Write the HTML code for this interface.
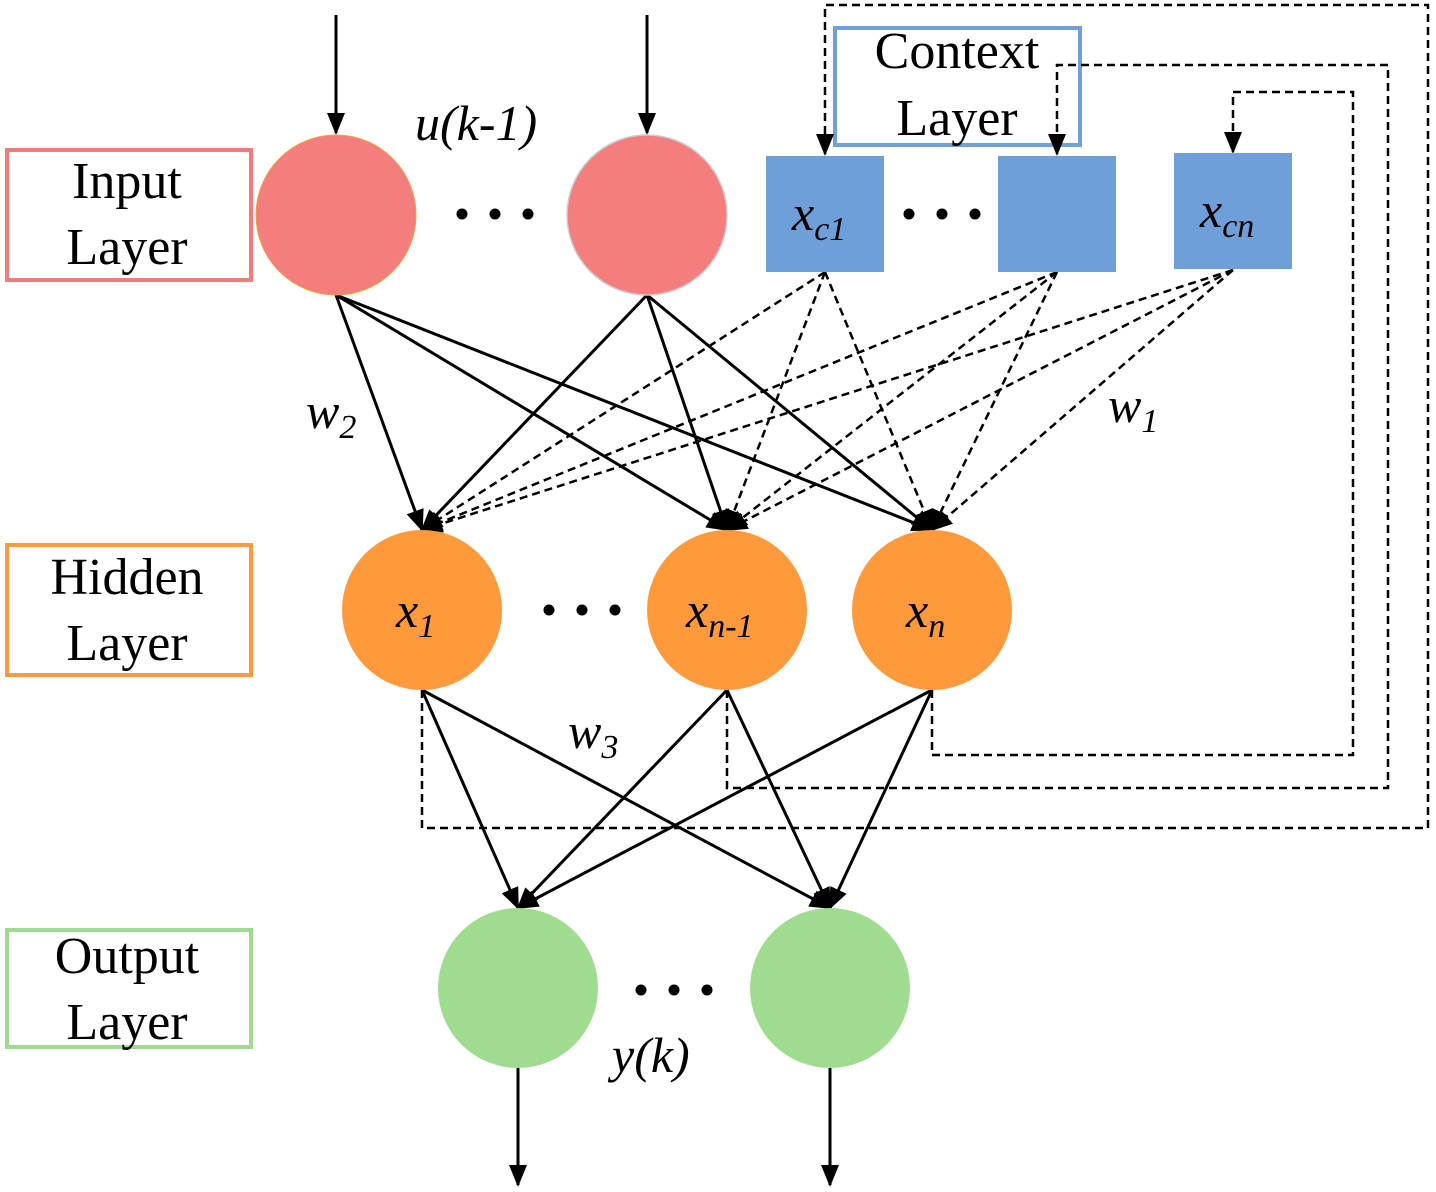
<!DOCTYPE html>
<html><head><style>body{margin:0;background:#fff}svg{display:block}</style></head><body>
<svg width="1436" height="1192" viewBox="0 0 1436 1192" xmlns="http://www.w3.org/2000/svg" font-family="Liberation Serif, serif">
<defs>
<marker id="b" markerWidth="22" markerHeight="22" refX="20" refY="11" orient="auto" markerUnits="userSpaceOnUse" viewBox="0 0 22 22"><path d="M0,2 L22,11 L0,20z" fill="#000"/></marker>
</defs>
<g fill="none" stroke-width="4">
<rect x="7" y="150" width="244" height="130" stroke="#F07C7C"/>
<rect x="7" y="545" width="244" height="130" stroke="#FF9A3C"/>
<rect x="7" y="930" width="244" height="117" stroke="#A0DC90"/>
<rect x="835" y="28" width="245" height="117" stroke="#6FA0DC"/>
</g>
<g font-size="52" text-anchor="middle" fill="#000">
<text x="127" y="198">Input</text><text x="127" y="264">Layer</text>
<text x="127" y="594">Hidden</text><text x="127" y="660">Layer</text>
<text x="127" y="973">Output</text><text x="127" y="1039">Layer</text>
<text x="957" y="68">Context</text><text x="957" y="135">Layer</text>
</g>
<g stroke="#000" stroke-width="3" fill="none">
<line x1="336" y1="15" x2="336" y2="133" marker-end="url(#b)"/>
<line x1="647" y1="15" x2="647" y2="133" marker-end="url(#b)"/>
<line x1="518" y1="1068" x2="518" y2="1185" marker-end="url(#b)"/>
<line x1="830" y1="1068" x2="830" y2="1185" marker-end="url(#b)"/>
<g marker-end="url(#b)">
<line x1="336" y1="295" x2="422" y2="530"/><line x1="336" y1="295" x2="727" y2="530"/><line x1="336" y1="295" x2="932" y2="530"/>
<line x1="647" y1="295" x2="422" y2="530"/><line x1="647" y1="295" x2="727" y2="530"/><line x1="647" y1="295" x2="932" y2="530"/>
<line x1="422" y1="690" x2="518" y2="908"/><line x1="422" y1="690" x2="830" y2="908"/>
<line x1="727" y1="690" x2="518" y2="908"/><line x1="727" y1="690" x2="830" y2="908"/>
<line x1="932" y1="690" x2="518" y2="908"/><line x1="932" y1="690" x2="830" y2="908"/>
</g>
<g stroke-dasharray="8,5" stroke-width="2.5" marker-end="url(#b)">
<line x1="825" y1="272" x2="422" y2="530"/><line x1="825" y1="272" x2="727" y2="530"/><line x1="825" y1="272" x2="932" y2="530"/>
<line x1="1057" y1="272" x2="422" y2="530"/><line x1="1057" y1="272" x2="727" y2="530"/><line x1="1057" y1="272" x2="932" y2="530"/>
<line x1="1233" y1="270" x2="422" y2="530"/><line x1="1233" y1="270" x2="727" y2="530"/><line x1="1233" y1="270" x2="932" y2="530"/>
<polyline points="422,690 422,828 1428,828 1428,5 825,5 825,154"/>
<polyline points="727,690 727,788 1388,788 1388,65 1057,65 1057,154"/>
<polyline points="932,690 932,755 1353,755 1353,92 1233,92 1233,152"/>
</g>
</g>
<circle cx="336" cy="215" r="80" fill="#F47D7D" stroke="#F0A040" stroke-width="1"/>
<circle cx="647" cy="215" r="80" fill="#F47D7D" stroke="#ccc" stroke-width="1.5"/>
<rect x="766" y="156" width="118" height="116" fill="#6F9FD8"/>
<rect x="998" y="156" width="118" height="116" fill="#6F9FD8"/>
<rect x="1174" y="153" width="118" height="116" fill="#6F9FD8"/>
<circle cx="422" cy="610" r="80" fill="#FF9A3C"/>
<circle cx="727" cy="610" r="80" fill="#FF9A3C"/>
<circle cx="932" cy="610" r="80" fill="#FF9A3C"/>
<circle cx="518" cy="988" r="80" fill="#A0DC90"/>
<circle cx="830" cy="988" r="80" fill="#A0DC90"/>
<g fill="#000">
<circle cx="462" cy="214" r="5.5"/><circle cx="495" cy="214" r="5.5"/><circle cx="528" cy="214" r="5.5"/>
<circle cx="909" cy="214" r="5.5"/><circle cx="942" cy="214" r="5.5"/><circle cx="975" cy="214" r="5.5"/>
<circle cx="549" cy="610" r="5.5"/><circle cx="582" cy="610" r="5.5"/><circle cx="615" cy="610" r="5.5"/>
<circle cx="641" cy="990" r="5.5"/><circle cx="674" cy="990" r="5.5"/><circle cx="707" cy="990" r="5.5"/>
</g>
<g font-style="italic" font-size="50" fill="#000">
<text x="415" y="140">u(k-1)</text>
<text x="306" y="428">w<tspan font-size="34" dy="10">2</tspan></text>
<text x="1108" y="422">w<tspan font-size="34" dy="10">1</tspan></text>
<text x="568" y="748">w<tspan font-size="34" dy="10">3</tspan></text>
<text x="612" y="1072">y(k)</text>
<text x="792" y="230">x<tspan font-size="34" dy="10">c1</tspan></text>
<text x="1200" y="227">x<tspan font-size="34" dy="10">cn</tspan></text>
<text x="396" y="627">x<tspan font-size="34" dy="10">1</tspan></text>
<text x="686" y="627">x<tspan font-size="34" dy="10">n-1</tspan></text>
<text x="906" y="627">x<tspan font-size="34" dy="10">n</tspan></text>
</g>
</svg>
</body></html>
